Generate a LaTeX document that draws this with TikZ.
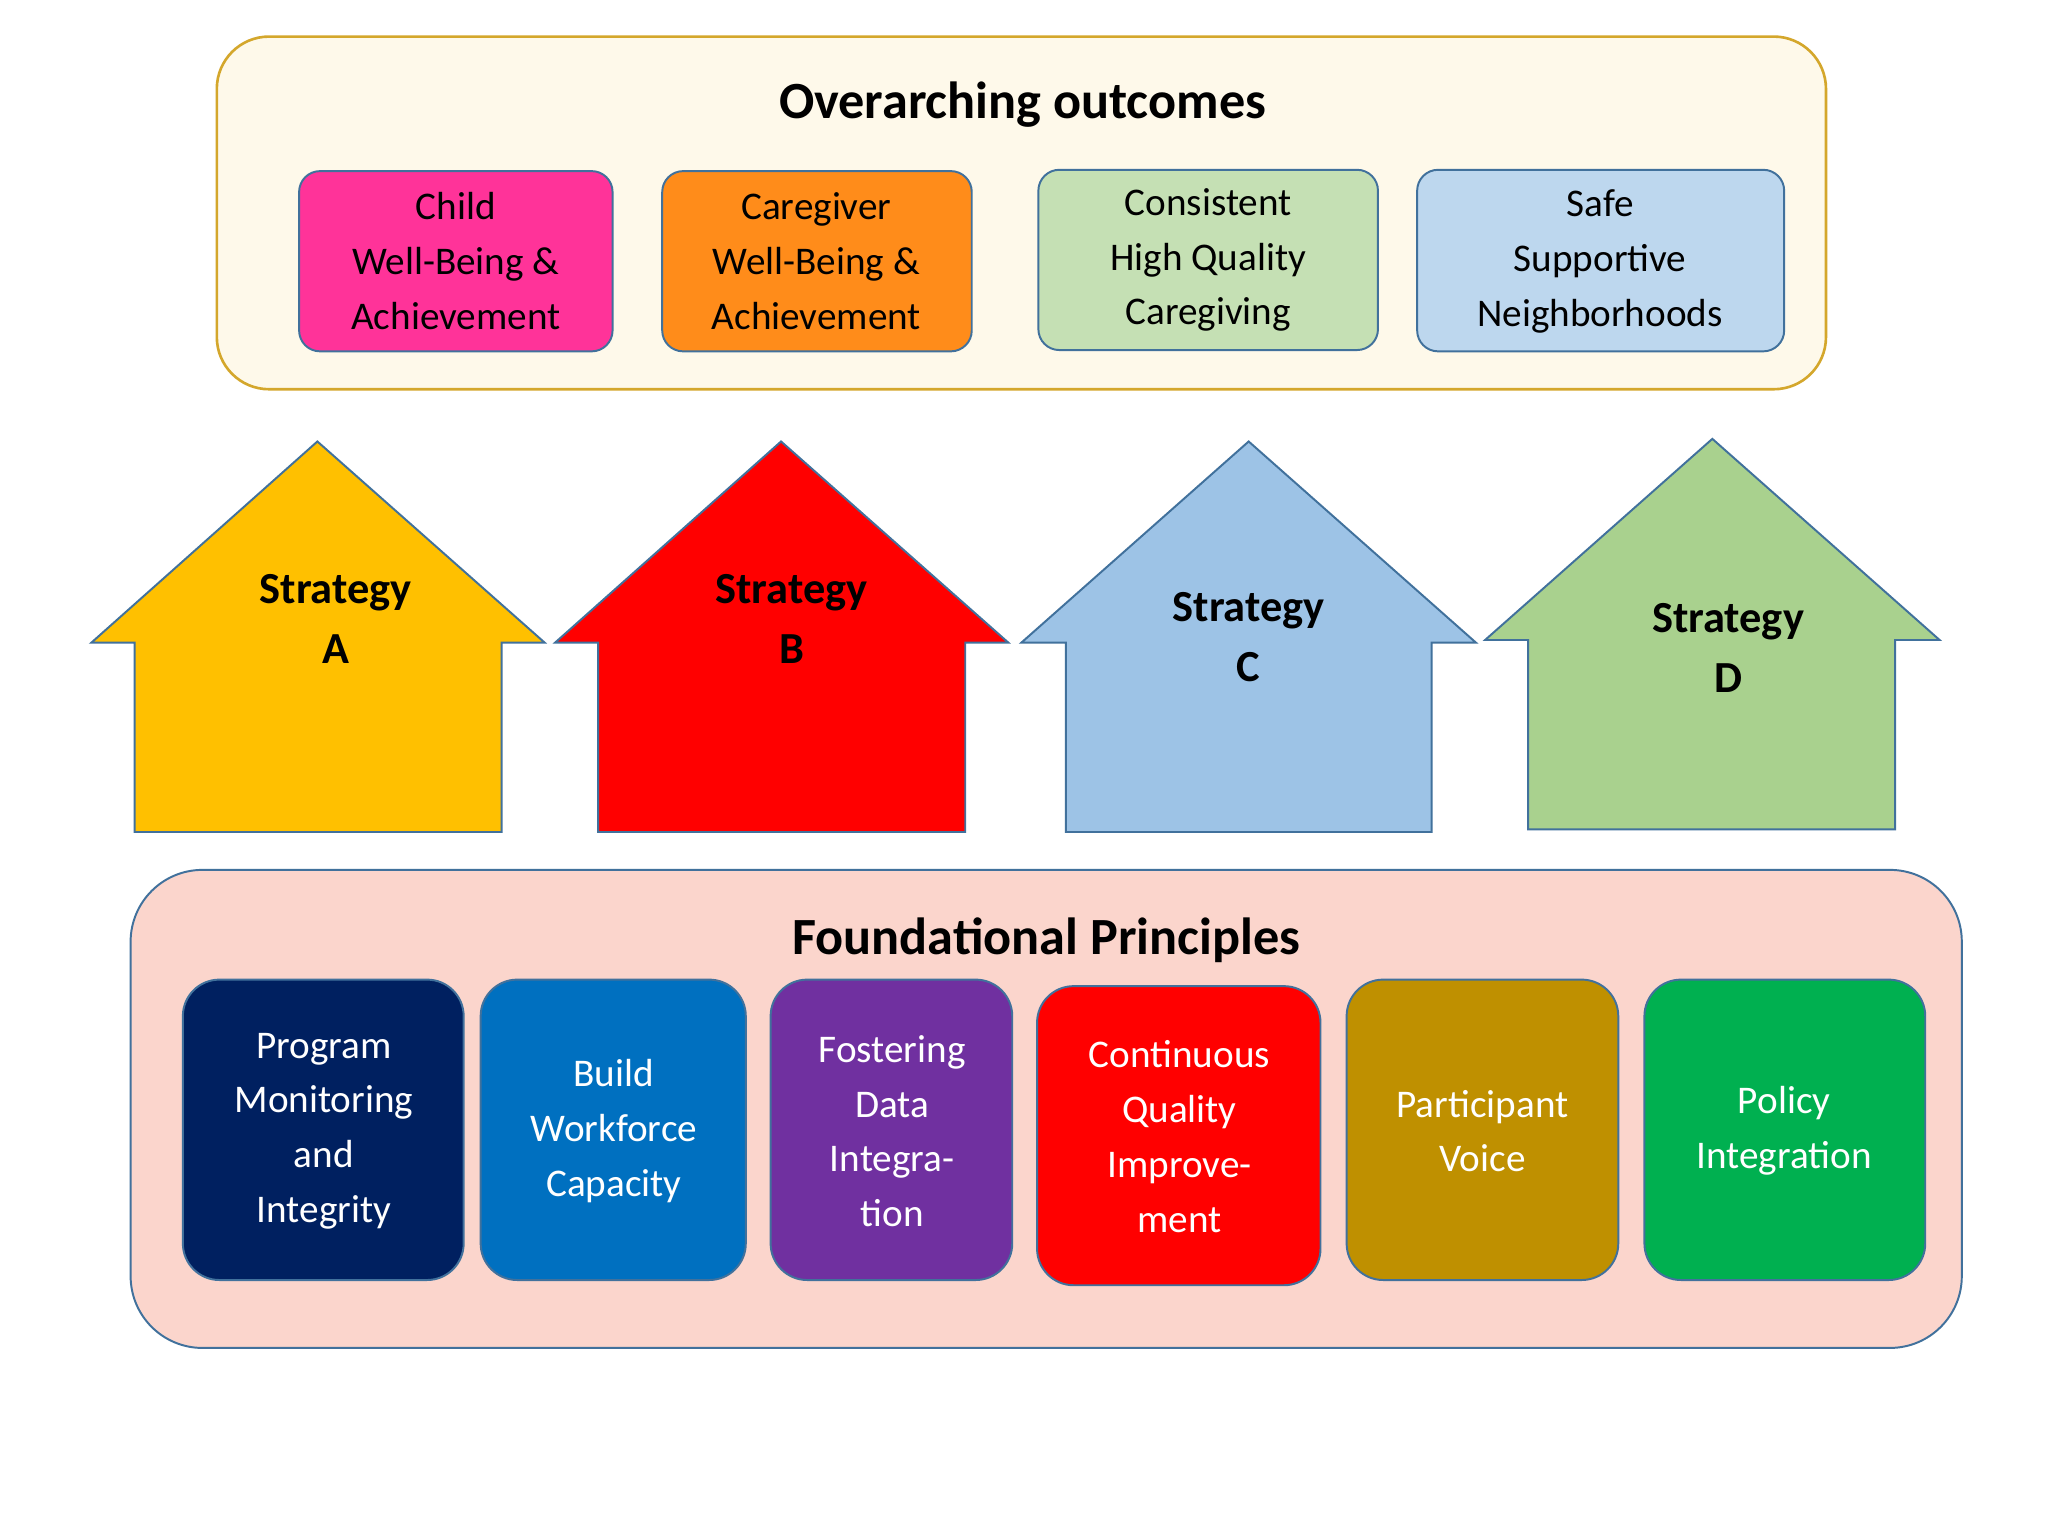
\documentclass[tikz,border=0pt]{standalone}
\usepackage{fontspec}
\setmainfont{Carlito}
\definecolor{cream}{HTML}{FEF9EA}\definecolor{gold}{HTML}{D4A72C}
\definecolor{bd}{HTML}{41719C}
\definecolor{cpink}{HTML}{FF3399}\definecolor{corange}{HTML}{FF8C1A}
\definecolor{cgreenl}{HTML}{C5E0B4}\definecolor{cbluel}{HTML}{BDD7EE}
\definecolor{cyel}{HTML}{FFC000}\definecolor{cred}{HTML}{FF0000}
\definecolor{cblue}{HTML}{9DC3E6}\definecolor{cgreen}{HTML}{A9D18E}
\definecolor{csalmon}{HTML}{FBD5CC}
\definecolor{f1c}{HTML}{002060}\definecolor{f2c}{HTML}{0070C0}
\definecolor{f3c}{HTML}{7030A0}\definecolor{f5c}{HTML}{BF9000}
\definecolor{f6c}{HTML}{00B050}
\begin{document}
\begin{tikzpicture}[x=1pt,y=-1pt,
  txt/.style={align=center,font=\fontsize{30}{42}\selectfont},
  house/.style={draw=bd,line width=1.5pt},
  strat/.style={align=center,font=\fontsize{34}{46}\selectfont\bfseries},
  obox/.style={draw=bd,line width=1.5pt,rounded corners=16pt},
  fbox/.style={draw=bd,line width=1.5pt,rounded corners=28pt}]
\useasboundingbox[fill=white] (0,0) rectangle (1568,1176);
% top
\draw[fill=cream,draw=gold,line width=2pt,rounded corners=40pt] (166,28) rectangle (1398,298);
\node[font=\fontsize{40}{48}\selectfont\bfseries] (t1) at (783,80) {Overarching outcomes};
\draw[obox,fill=cpink] (229,131) rectangle (469,269);
\node[txt] (o1) at (349,200) {Child\\Well-Being \&\\Achievement};
\draw[obox,fill=corange] (507,131) rectangle (744,269);
\node[txt] (o2) at (625,200) {Caregiver\\Well-Being \&\\Achievement};
\draw[obox,fill=cgreenl] (795,130) rectangle (1055,268);
\node[txt] (o3) at (925,199) {Consistent\\High Quality\\Caregiving};
\draw[obox,fill=cbluel] (1085,130) rectangle (1366,269);
\node[txt] (o4) at (1225,200) {Safe\\Supportive\\Neighborhoods};
% houses
\draw[house,fill=cyel] (103,637)--(103,492)--(70,492)--(243,338)--(417,492)--(384,492)--(384,637)--cycle;
\node[strat] (sa) at (257,474) {Strategy\\A};
\draw[house,fill=cred] (458,637)--(458,492)--(425,492)--(598,338)--(772,492)--(739,492)--(739,637)--cycle;
\node[strat] (sb) at (606,474) {Strategy\\B};
\draw[house,fill=cblue] (816,637)--(816,492)--(782,492)--(956,338)--(1130,492)--(1096,492)--(1096,637)--cycle;
\node[strat] (sc) at (956,488) {Strategy\\C};
\draw[house,fill=cgreen] (1170,635)--(1170,490)--(1137,490)--(1311,336)--(1485,490)--(1451,490)--(1451,635)--cycle;
\node[strat] (sd) at (1323,496) {Strategy\\D};
% bottom
\draw[fill=csalmon,draw=bd,line width=1.5pt,rounded corners=55pt] (100,666) rectangle (1502,1032);
\node[font=\fontsize{40}{48}\selectfont\bfseries] (t2) at (801,720) {Foundational Principles};
\draw[fbox,fill=f1c] (140,750) rectangle (355,980);
\node[txt,text=white] (f1) at (248,866) {Program\\Monitoring\\and\\Integrity};
\draw[fbox,fill=f2c] (368,750) rectangle (571,980);
\node[txt,text=white] (f2) at (470,866) {Build\\Workforce\\Capacity};
\draw[fbox,fill=f3c] (590,750) rectangle (775,980);
\node[txt,text=white] (f3) at (683,866) {Fostering\\Data\\Integra-\\tion};
\draw[fbox,fill=cred] (794,755) rectangle (1011,984);
\node[txt,text=white] (f4) at (903,870) {Continuous\\Quality\\Improve-\\ment};
\draw[fbox,fill=f5c] (1031,750) rectangle (1239,980);
\node[txt,text=white] (f5) at (1135,866) {Participant\\Voice};
\draw[fbox,fill=f6c] (1259,750) rectangle (1474,980);
\node[txt,text=white] (f6) at (1366,866) {Policy\\Integration};
\end{tikzpicture}
\end{document}
